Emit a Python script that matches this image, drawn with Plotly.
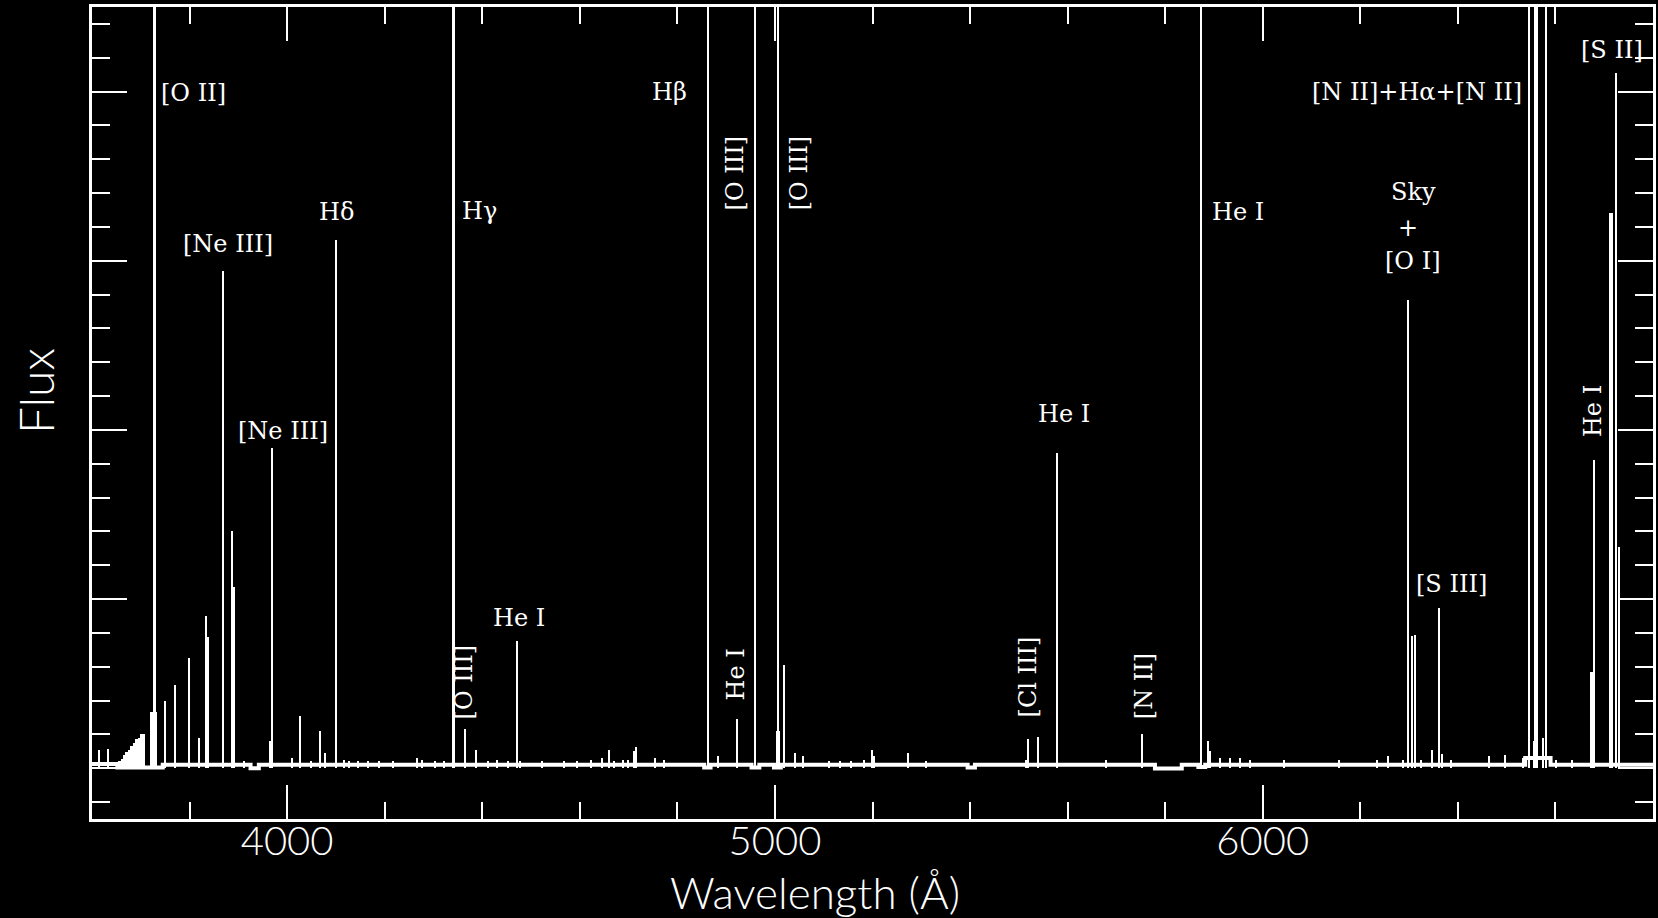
import plotly.graph_objects as go

# ------------------------------------------------------------------ data
# Emission features: central wavelength (Angstrom), peak flux (arbitrary units), width (Angstrom)
line_wl = [3615, 3633, 3728, 3749, 3770, 3799, 3820, 3833, 3838, 3868, 3888, 3892,
           3966, 3969, 4027, 4067, 4077, 4101, 4341, 4364, 4388, 4471, 4522,
           4659, 4712, 4716, 4862, 4883, 4922, 4959, 5006, 5007, 5019, 5042, 5057,
           5198, 5204, 5272, 5519, 5540, 5578, 5678, 5753, 5874, 5888, 5892,
           6299, 6306, 6312, 6325, 6347, 6362, 6368, 6533, 6546, 6556, 6558, 6563,
           6574, 6581, 6674, 6678.5, 6714, 6725, 6730]
line_peak = [0.105, 0.115, 8.0, 0.40, 0.495, 0.65, 0.176, 0.90, 0.775, 2.94, 1.40, 1.07,
             0.16, 1.895, 0.31, 0.22, 0.09, 3.12, 5.2, 0.23, 0.105, 0.755, 0.04,
             0.11, 0.10, 0.125, 11.0, 0.075, 0.29, 14.0, 0.22, 40.0, 0.61, 0.09, 0.07,
             0.11, 0.07, 0.09, 0.175, 0.185, 1.866, 0.05, 0.20, 5.0, 0.16, 0.10,
             2.77, 0.78, 0.79, 0.05, 0.105, 0.95, 0.085, 0.06, 9.0, 0.16, 30.0, 30.0,
             0.18, 12.0, 0.57, 1.82, 3.28, 4.11, 1.31]
line_fwhm = [2, 2, 6, 2, 2, 2.5, 2, 2.5, 3, 2.5, 2.5, 2.5,
             4, 2.5, 2, 2, 2, 3.5, 5, 2, 2, 2.5, 2,
             2, 2, 2, 2.5, 2, 2.5, 5, 8, 3, 2.5, 2, 2,
             2, 2, 2, 2, 2, 3, 2, 2, 2.5, 2.5, 2,
             3.5, 3, 3, 2, 2, 2.5, 2, 2, 3.5, 3, 3, 3,
             3, 3.5, 6, 3, 9, 3, 5]

# High-order Balmer blend below the Balmer jump and the [O II] shoulder
blend_wl = [3656, 3661, 3666, 3671, 3676, 3681, 3686, 3691, 3696, 3701, 3706, 3726]
blend_peak = [0.04, 0.057, 0.077, 0.095, 0.11, 0.13, 0.15, 0.17, 0.18, 0.20, 0.20, 0.33]
blend_width = [5, 5, 5, 5, 5, 5, 5, 5, 5, 5, 5, 16]

# Weak noise features along the continuum
weak_wl = [3911, 4010, 4050, 4116, 4127, 4145, 4167, 4189, 4218, 4266, 4277, 4303,
           4321, 4412, 4431, 4453, 4478, 4568, 4594, 4623, 4646, 4671, 4689, 4700,
           4755, 4773, 5112, 5134, 5156, 5182, 5309, 5514, 5913, 5933, 5953, 5975,
           6043, 6157, 6234, 6256, 6288, 6387, 6463, 6496, 6602, 6635]
weak_peak = [0.04, 0.06, 0.04, 0.05, 0.04, 0.04, 0.04, 0.04, 0.04, 0.06, 0.05, 0.04,
             0.04, 0.04, 0.05, 0.04, 0.04, 0.04, 0.04, 0.05, 0.06, 0.04, 0.05, 0.05,
             0.06, 0.05, 0.04, 0.04, 0.04, 0.05, 0.04, 0.05, 0.06, 0.06, 0.06, 0.05,
             0.05, 0.05, 0.05, 0.07, 0.05, 0.05, 0.07, 0.08, 0.05, 0.05]

# Continuum (step levels starting at each wavelength)
cont_wl = [3600, 3652, 3745, 3925, 3942, 4855, 4868, 4952, 4968, 4998, 5012,
           5395, 5410, 5779, 5834, 5868, 5882, 6538, 6590, 6800]
cont_fx = [0.025, 0.005, 0.02, 0.0, 0.02, 0.005, 0.02, 0.005, 0.02, 0.005, 0.02,
           0.005, 0.02, -0.002, 0.02, 0.008, 0.02, 0.06, 0.02, 0.02]

# Line identifications
label_text = ["[O II]", "[Ne III]", "Hδ", "Hγ", "[Ne III]", "He I", "Hβ", "He I",
              "He I", "Sky", "+", "[O I]", "[S III]", "[N II]+Hα+[N II]", "[S II]"]
label_wl = [3807.7, 3878.3, 4100.3, 4393.8, 3990.8, 4474.7, 4784.7, 5592.8,
            5948.8, 6308.9, 6298.7, 6307.9, 6386.7, 6316.1, 6716.1]
label_flux = [3.991, 3.098, 3.29, 3.296, 1.994, 0.891, 3.997, 2.095,
              3.29, 3.408, 3.195, 3.0, 1.092, 3.997, 4.246]

vlabel_text = ["[O III]", "He I", "[O III]", "[O III]", "[Cl III]", "[N II]", "He I"]
vlabel_wl = [4363.2, 4919.7, 4918.7, 5049.6, 5519.2, 5755.5, 6677.2]
vlabel_flux = [0.509, 0.553, 3.518, 3.518, 0.538, 0.488, 2.112]

x_range = [3600, 6800]
y_range = [-0.3, 4.5]

# ------------------------------------------------------------------ figure
fig = go.Figure()

fig.add_trace(go.Scatter(
    x=cont_wl, y=cont_fx, mode="lines", line_shape="hv",
    line=dict(color="white", width=4), hoverinfo="skip", showlegend=False))

fig.add_trace(go.Bar(
    x=blend_wl, y=blend_peak, width=blend_width, marker=dict(color="white", line=dict(width=0)),
    hoverinfo="skip", showlegend=False))

fig.add_trace(go.Bar(
    x=weak_wl, y=weak_peak, width=[2.5] * len(weak_wl),
    marker=dict(color="white", line=dict(width=0)), hoverinfo="skip", showlegend=False))

fig.add_trace(go.Bar(
    x=line_wl, y=line_peak, width=line_fwhm,
    marker=dict(color="white", line=dict(width=0)), hoverinfo="skip", showlegend=False))

label_font = dict(family="DejaVu Serif", size=24, color="white")
annotations = []
for t, xw, yf in zip(label_text, label_wl, label_flux):
    annotations.append(dict(x=xw, y=yf, xref="x", yref="y", text=t, showarrow=False,
                            font=label_font, xanchor="center", yanchor="middle"))
for t, xw, yf in zip(vlabel_text, vlabel_wl, vlabel_flux):
    annotations.append(dict(x=xw, y=yf, xref="x", yref="y", text=t, showarrow=False,
                            font=label_font, textangle=-90, xanchor="center", yanchor="middle"))

title_font = dict(family="Lato", color="white", weight=300)
annotations.append(dict(x=0.4632, y=-0.0905, xref="paper", yref="paper", text="Wavelength (Å)",
                        showarrow=False, font=dict(size=44, **title_font),
                        xanchor="center", yanchor="middle"))
annotations.append(dict(x=-0.0365, y=0.527, xref="paper", yref="paper", text="Flux",
                        showarrow=False, textangle=-90, font=dict(size=48, **title_font),
                        xanchor="center", yanchor="middle"))

axis_common = dict(showline=True, linecolor="white", linewidth=2.5, mirror="allticks",
                   ticks="inside", tickcolor="white", tickwidth=2, showgrid=False,
                   zeroline=False)

fig.update_layout(
    width=1658, height=918,
    margin=dict(l=92, r=2, t=7, b=99),
    paper_bgcolor="black", plot_bgcolor="black",
    barmode="overlay", bargap=0, bargroupgap=0,
    showlegend=False,
    annotations=annotations,
    xaxis=dict(range=x_range, dtick=1000, tick0=0, ticklen=34, ticklabelstandoff=-15,
               minor=dict(ticks="inside", dtick=200, tick0=0, ticklen=17,
                          tickcolor="white", tickwidth=2),
               tickfont=dict(family="Lato", size=40, color="white", weight=300),
               **axis_common),
    yaxis=dict(range=y_range, dtick=1, tick0=0, ticklen=35, showticklabels=False,
               minor=dict(ticks="inside", dtick=0.2, tick0=0, ticklen=18,
                          tickcolor="white", tickwidth=2),
               **axis_common),
)

fig.write_html("out.html")
